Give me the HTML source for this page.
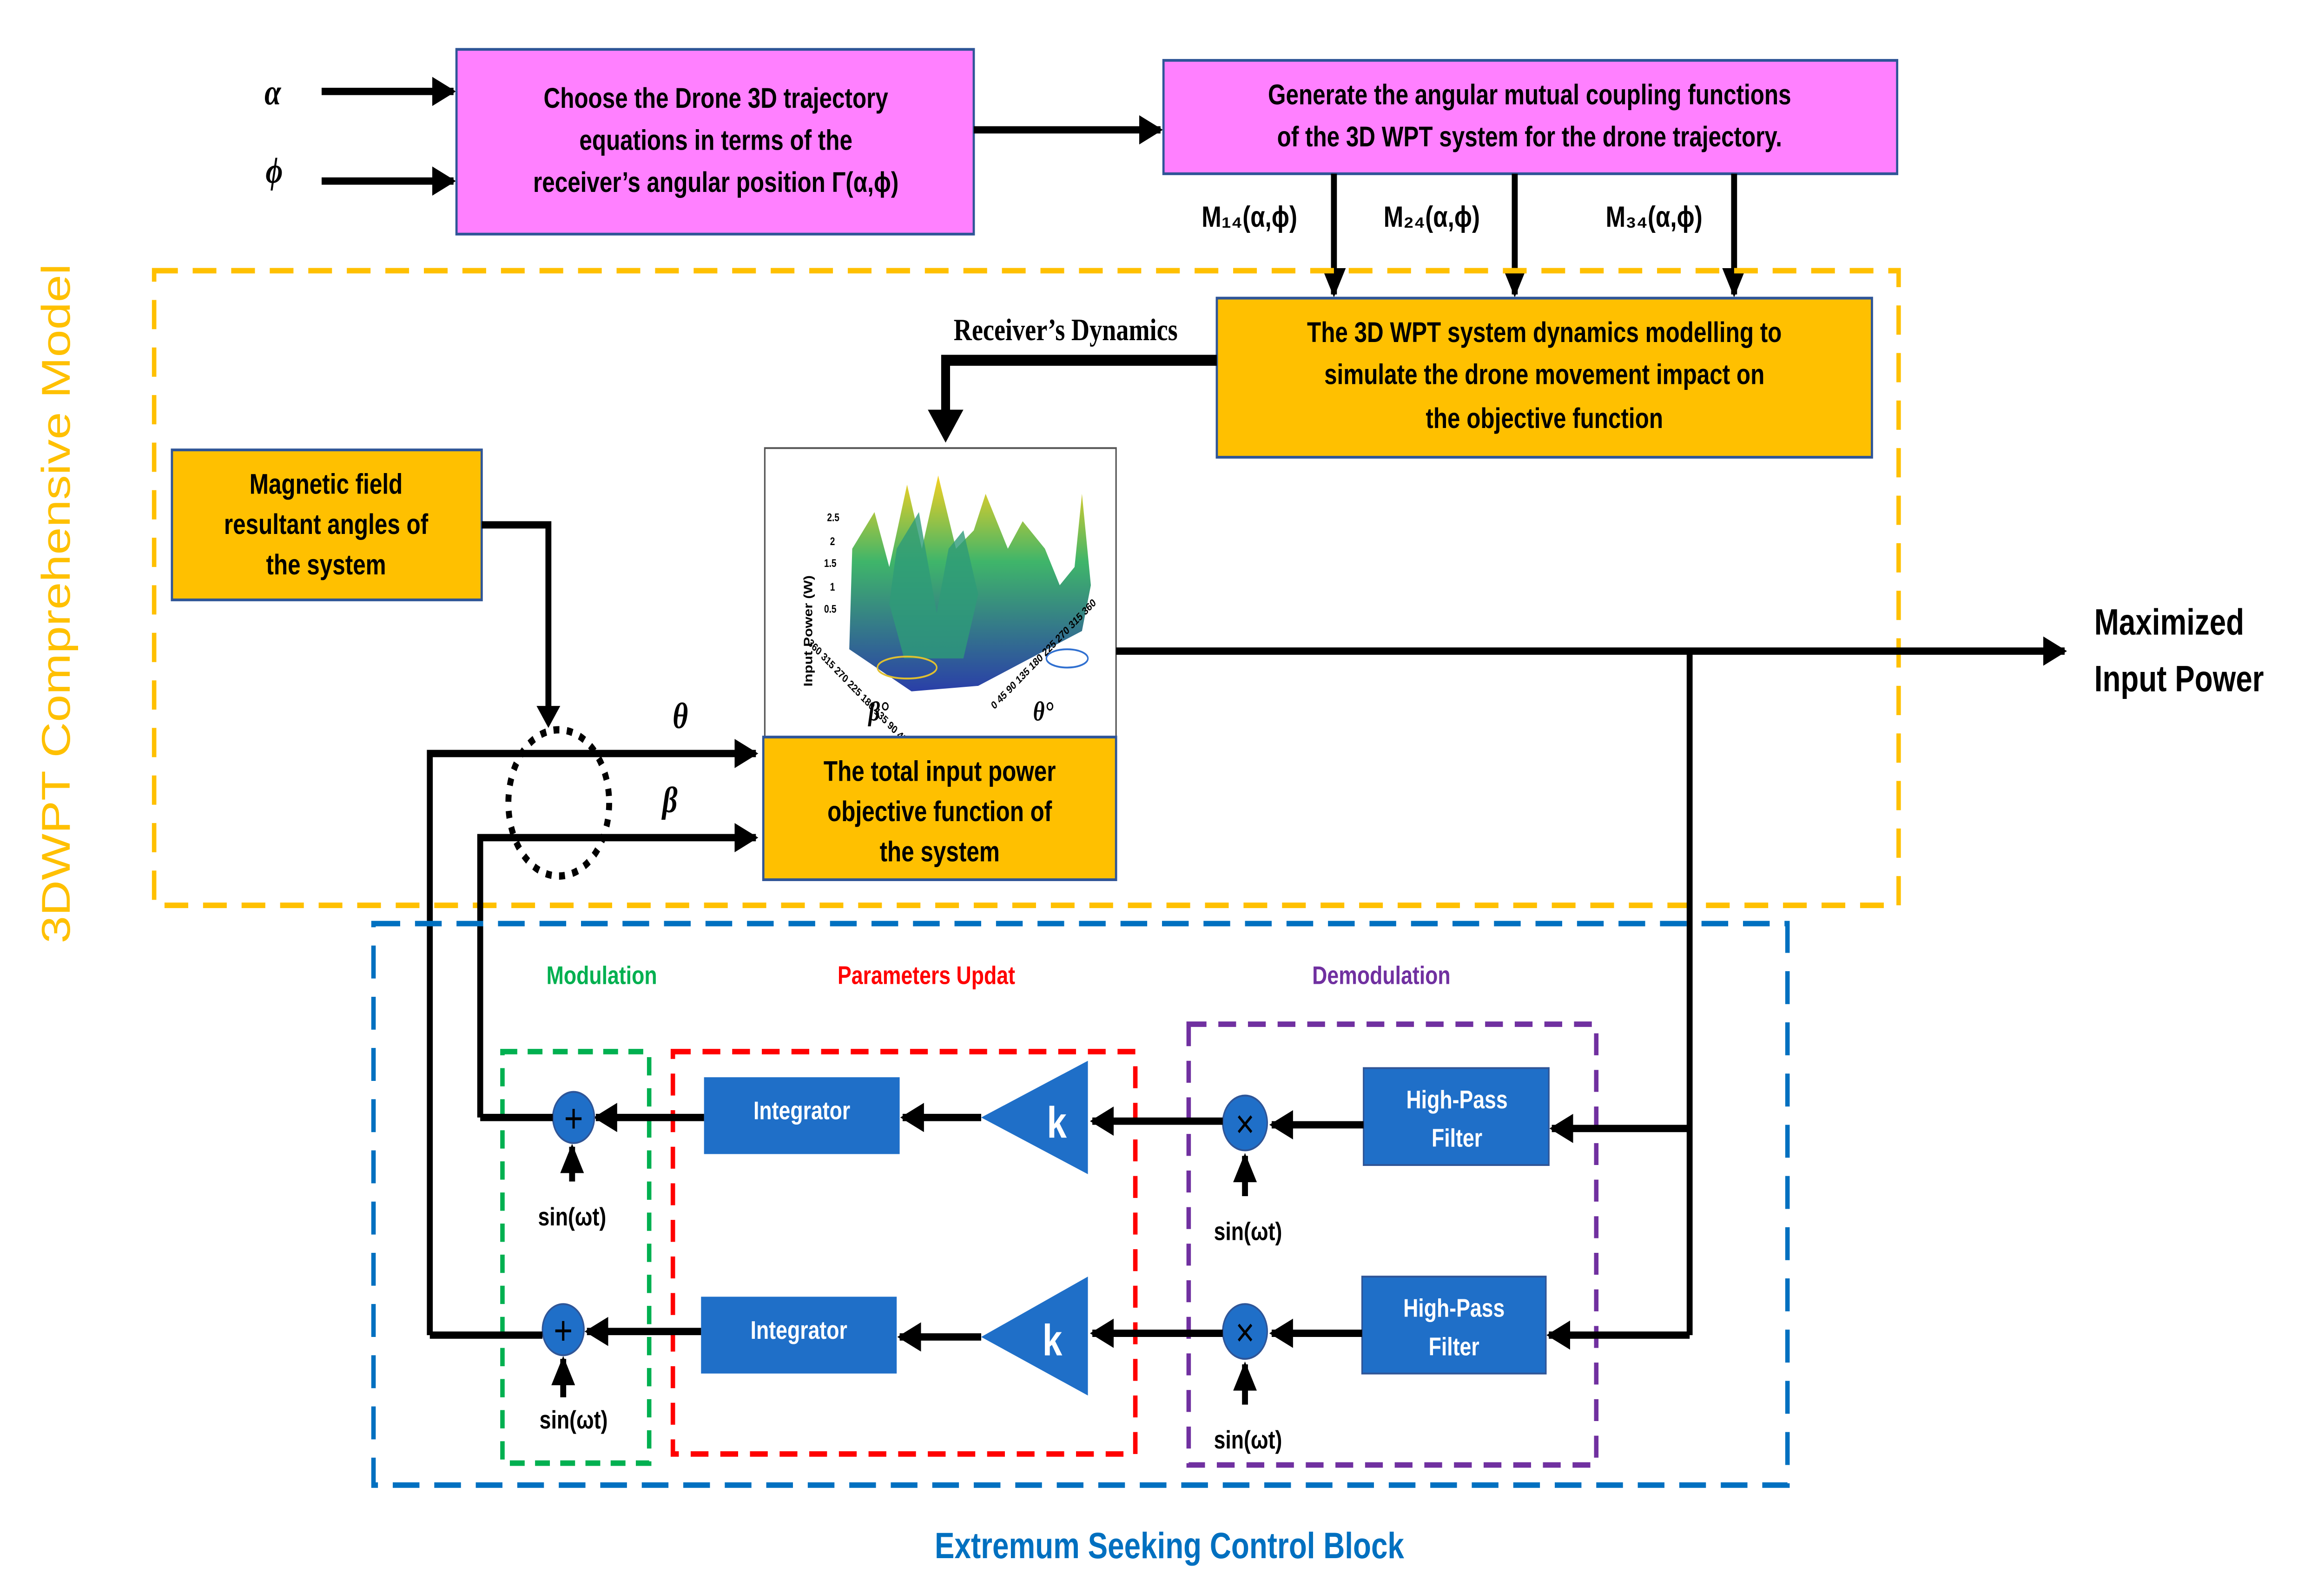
<!DOCTYPE html>
<html><head><meta charset="utf-8"><style>
html,body{margin:0;padding:0;background:#fff;width:100vw;height:100vh;overflow:hidden;}
svg{display:block;width:100vw;height:100vh;}
text{font-family:"Liberation Sans",sans-serif;font-weight:bold;}
.serif{font-family:"Liberation Serif",serif;}
.it{font-family:"Liberation Serif",serif;font-style:italic;}
.nb{font-weight:normal;}
</style></head><body>
<svg viewBox="0 0 1568 871" preserveAspectRatio="none" xmlns="http://www.w3.org/2000/svg">
<defs>
<marker id="ah" viewBox="0 0 10 10" refX="9" refY="5" markerWidth="4" markerHeight="4" orient="auto" markerUnits="strokeWidth"><path d="M0,0 L10,5 L0,10 z" fill="#000"/></marker>
<linearGradient id="surf" x1="0" y1="0" x2="0" y2="1"><stop offset="0" stop-color="#f5d020"/><stop offset="0.4" stop-color="#3fb56a"/><stop offset="1" stop-color="#2a3fa8"/></linearGradient>
</defs>
<rect width="1568" height="871" fill="#fff"/>

<text x="184" y="57" font-size="20" class="it" text-anchor="middle">α</text>
<text x="185" y="100" font-size="20" class="it" text-anchor="middle">ϕ</text>
<line x1="217" y1="50" x2="306" y2="50" stroke="#000" stroke-width="4" marker-end="url(#ah)"/>
<line x1="217" y1="99" x2="306" y2="99" stroke="#000" stroke-width="4" marker-end="url(#ah)"/>

<rect x="308" y="27" width="349" height="101" fill="#FF80FF" stroke="#2F5597" stroke-width="1.5"/>
<g font-size="15.5" text-anchor="middle">
<text x="483" y="59">Choose the Drone 3D trajectory</text>
<text x="483" y="82">equations in terms of the</text>
<text x="483" y="105">receiver’s angular position Γ(α,ϕ)</text>
</g>
<line x1="657" y1="71" x2="783" y2="71" stroke="#000" stroke-width="4" marker-end="url(#ah)"/>

<rect x="785" y="33" width="495" height="62" fill="#FF80FF" stroke="#2F5597" stroke-width="1.5"/>
<g font-size="15.5" text-anchor="middle">
<text x="1032" y="57">Generate the angular mutual coupling functions</text>
<text x="1032" y="80">of the 3D WPT system for the drone trajectory.</text>
</g>
<line x1="900" y1="95" x2="900" y2="161" stroke="#000" stroke-width="4" marker-end="url(#ah)"/>
<line x1="1022" y1="95" x2="1022" y2="161" stroke="#000" stroke-width="4" marker-end="url(#ah)"/>
<line x1="1170" y1="95" x2="1170" y2="161" stroke="#000" stroke-width="4" marker-end="url(#ah)"/>
<g font-size="16" text-anchor="middle">
<text x="843" y="124">M₁₄(α,ϕ)</text>
<text x="966" y="124">M₂₄(α,ϕ)</text>
<text x="1116" y="124">M₃₄(α,ϕ)</text>
</g>

<rect x="104" y="148" width="1177" height="347" fill="none" stroke="#FFC000" stroke-width="3" stroke-dasharray="16,10"/>
<text transform="translate(47,330) rotate(-90)" font-size="27" class="nb" fill="#FFC000" text-anchor="middle">3DWPT Comprehensive Model</text>

<rect x="821" y="163" width="442" height="87" fill="#FFC000" stroke="#2F5597" stroke-width="1.5"/>
<g font-size="15.5" text-anchor="middle">
<text x="1042" y="187">The 3D WPT system dynamics modelling to</text>
<text x="1042" y="210">simulate the drone movement impact on</text>
<text x="1042" y="234">the objective function</text>
</g>
<text x="719" y="186" font-size="17" class="serif" text-anchor="middle">Receiver’s Dynamics</text>
<polyline points="821,197 638,197 638,232" fill="none" stroke="#000" stroke-width="6"/>
<polygon points="626,224 650,224 638,242" fill="#000"/>

<rect x="516" y="245" width="237" height="158" fill="#fff" stroke="#555" stroke-width="1"/>
<g>
<polygon points="573,355 575,300 590,280 600,310 612,265 622,300 633,260 645,300 657,290 665,270 680,300 690,285 705,300 715,320 725,310 730,270 736,320 730,345 660,375 615,378" fill="url(#surf)"/>
<polygon points="600,330 605,300 620,280 632,335 640,300 650,290 660,325 650,360 610,360" fill="#2e9b78" opacity="0.8"/>
<ellipse cx="612" cy="365" rx="20" ry="6" fill="none" stroke="#e0c030" stroke-width="1"/>
<ellipse cx="720" cy="360" rx="14" ry="5" fill="none" stroke="#3070d0" stroke-width="1"/>
<text transform="translate(548,345) rotate(-90)" font-size="8" text-anchor="middle">Input Power (W)</text>
<g font-size="6" class="nb">
<text x="558" y="285">2.5</text><text x="560" y="298">2</text><text x="556" y="310">1.5</text><text x="560" y="323">1</text><text x="556" y="335">0.5</text>
<text x="540" y="365" transform="rotate(40,560,365)">360 315 270 225 180 135 90 45 0</text>
<text x="665" y="372" transform="rotate(-40,690,372)">0 45 90 135 180 225 270 315 360</text>
</g>
<text x="586" y="394" font-size="15" class="it">β°</text>
<text x="697" y="394" font-size="15" class="it">θ°</text>
</g>

<rect x="515" y="403" width="238" height="78" fill="#FFC000" stroke="#2F5597" stroke-width="1.5"/>
<g font-size="15.5" text-anchor="middle">
<text x="634" y="427">The total input power</text>
<text x="634" y="449">objective function of</text>
<text x="634" y="471">the system</text>
</g>

<rect x="116" y="246" width="209" height="82" fill="#FFC000" stroke="#2F5597" stroke-width="1.5"/>
<g font-size="15.5" text-anchor="middle">
<text x="220" y="270">Magnetic field</text>
<text x="220" y="292">resultant angles of</text>
<text x="220" y="314">the system</text>
</g>
<polyline points="325,287 370,287 370,388" fill="none" stroke="#000" stroke-width="4"/>
<polygon points="362,386 378,386 370,398" fill="#000"/>
<ellipse cx="377" cy="439" rx="34" ry="40" fill="none" stroke="#000" stroke-width="4" stroke-dasharray="4,5"/>

<polyline points="290,730 290,412 510,412" fill="none" stroke="#000" stroke-width="4" marker-end="url(#ah)"/>
<polyline points="324,611 324,458 510,458" fill="none" stroke="#000" stroke-width="4" marker-end="url(#ah)"/>
<text x="459" y="398" font-size="20" class="it" text-anchor="middle">θ</text>
<text x="452" y="444" font-size="20" class="it" text-anchor="middle">β</text>

<line x1="753" y1="356" x2="1393" y2="356" stroke="#000" stroke-width="4" marker-end="url(#ah)"/>
<text x="1413" y="347" font-size="20">Maximized</text>
<text x="1413" y="378" font-size="20">Input Power</text>
<polyline points="1140,356 1140,730" fill="none" stroke="#000" stroke-width="4"/>

<rect x="252" y="505" width="954" height="307" fill="none" stroke="#0070C0" stroke-width="3" stroke-dasharray="18,10"/>
<text x="789" y="852" font-size="20" fill="#0070C0" text-anchor="middle">Extremum Seeking Control Block</text>
<text x="406" y="538" font-size="14" fill="#00B050" text-anchor="middle">Modulation</text>
<text x="625" y="538" font-size="14" fill="#FF0000" text-anchor="middle">Parameters Updat</text>
<text x="932" y="538" font-size="14" fill="#7030A0" text-anchor="middle">Demodulation</text>

<rect x="339" y="575" width="99" height="225" fill="none" stroke="#00B050" stroke-width="3" stroke-dasharray="10,7"/>
<rect x="454" y="575" width="312" height="220" fill="none" stroke="#FF0000" stroke-width="3" stroke-dasharray="12,8"/>
<rect x="802" y="560" width="275" height="241" fill="none" stroke="#7030A0" stroke-width="3" stroke-dasharray="12,8"/>

<g>
<line x1="1140" y1="617" x2="1047" y2="617" stroke="#000" stroke-width="4" marker-end="url(#ah)"/>
<rect x="920" y="584" width="125" height="53" fill="#1F6FC8" stroke="#2F5597"/>
<text x="983" y="606" font-size="14" fill="#fff" text-anchor="middle">High-Pass</text>
<text x="983" y="627" font-size="14" fill="#fff" text-anchor="middle">Filter</text>
<line x1="920" y1="615" x2="858" y2="615" stroke="#000" stroke-width="4" marker-end="url(#ah)"/>
<circle cx="840" cy="614" r="15" fill="#1F6FC8" stroke="#2F5597"/>
<text x="840" y="622" font-size="22" class="nb" text-anchor="middle">×</text>
<line x1="825" y1="613" x2="737" y2="613" stroke="#000" stroke-width="4" marker-end="url(#ah)"/>
<polygon points="734,580 734,642 662,611" fill="#1F6FC8"/>
<text x="713" y="622" font-size="24" fill="#fff" text-anchor="middle">k</text>
<line x1="662" y1="611" x2="609" y2="611" stroke="#000" stroke-width="4" marker-end="url(#ah)"/>
<rect x="475" y="589" width="132" height="42" fill="#1F6FC8"/>
<text x="541" y="612" font-size="14" fill="#fff" text-anchor="middle">Integrator</text>
<line x1="475" y1="611" x2="402" y2="611" stroke="#000" stroke-width="4" marker-end="url(#ah)"/>
<circle cx="387" cy="611" r="14" fill="#1F6FC8" stroke="#2F5597"/>
<text x="387" y="619" font-size="22" class="nb" text-anchor="middle">+</text>
<line x1="373" y1="611" x2="324" y2="611" stroke="#000" stroke-width="4"/>
<line x1="386" y1="646" x2="386" y2="627" stroke="#000" stroke-width="4" marker-end="url(#ah)"/>
<text x="386" y="670" font-size="14" text-anchor="middle">sin(ωt)</text>
<line x1="840" y1="654" x2="840" y2="632" stroke="#000" stroke-width="4" marker-end="url(#ah)"/>
<text x="842" y="678" font-size="14" text-anchor="middle">sin(ωt)</text>
</g>

<g>
<line x1="1140" y1="730" x2="1045" y2="730" stroke="#000" stroke-width="4" marker-end="url(#ah)"/>
<rect x="919" y="698" width="124" height="53" fill="#1F6FC8" stroke="#2F5597"/>
<text x="981" y="720" font-size="14" fill="#fff" text-anchor="middle">High-Pass</text>
<text x="981" y="741" font-size="14" fill="#fff" text-anchor="middle">Filter</text>
<line x1="919" y1="729" x2="858" y2="729" stroke="#000" stroke-width="4" marker-end="url(#ah)"/>
<circle cx="840" cy="728" r="15" fill="#1F6FC8" stroke="#2F5597"/>
<text x="840" y="736" font-size="22" class="nb" text-anchor="middle">×</text>
<line x1="825" y1="729" x2="737" y2="729" stroke="#000" stroke-width="4" marker-end="url(#ah)"/>
<polygon points="734,698 734,763 662,731" fill="#1F6FC8"/>
<text x="710" y="741" font-size="24" fill="#fff" text-anchor="middle">k</text>
<line x1="662" y1="731" x2="607" y2="731" stroke="#000" stroke-width="4" marker-end="url(#ah)"/>
<rect x="473" y="709" width="132" height="42" fill="#1F6FC8"/>
<text x="539" y="732" font-size="14" fill="#fff" text-anchor="middle">Integrator</text>
<line x1="473" y1="728" x2="396" y2="728" stroke="#000" stroke-width="4" marker-end="url(#ah)"/>
<circle cx="380" cy="727" r="14" fill="#1F6FC8" stroke="#2F5597"/>
<text x="380" y="735" font-size="22" class="nb" text-anchor="middle">+</text>
<line x1="366" y1="730" x2="290" y2="730" stroke="#000" stroke-width="4"/>
<line x1="380" y1="764" x2="380" y2="743" stroke="#000" stroke-width="4" marker-end="url(#ah)"/>
<text x="387" y="781" font-size="14" text-anchor="middle">sin(ωt)</text>
<line x1="840" y1="768" x2="840" y2="746" stroke="#000" stroke-width="4" marker-end="url(#ah)"/>
<text x="842" y="792" font-size="14" text-anchor="middle">sin(ωt)</text>
</g>
</svg>
</body></html>
